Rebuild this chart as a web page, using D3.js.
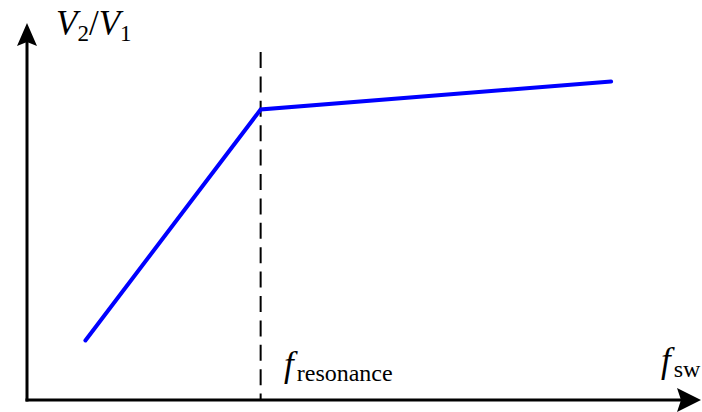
<!DOCTYPE html>
<html>
<head>
<meta charset="utf-8">
<script src="https://cdn.jsdelivr.net/npm/d3@7"></script>
<style>
  html, body { margin: 0; padding: 0; background: #fff; }
  svg { display: block; }
</style>
</head>
<body>
<svg id="chart" width="702" height="412"></svg>
<script>
// Switching frequency (normalised units) and voltage gain V2/V1 at the curve's breakpoints
const fswValues = [0.9, 3.6, 9.0];
const gainValues = [1.7, 8.3, 9.1];
// Resonant frequency marker
const resonanceFreq = [3.6];

const SERIF = "'Liberation Serif', 'Times New Roman', Times, serif";
const svg = d3.select("#chart");

const x = d3.scaleLinear().domain([0, 10]).range([27, 676]);
const y = d3.scaleLinear().domain([0, 10]).range([400, 50]);

const x0 = x(0), y0 = y(0);

// Axes
svg.append("line")
  .attr("x1", x0).attr("y1", y0 + 1.5)
  .attr("x2", x0).attr("y2", 40)
  .attr("stroke", "#000").attr("stroke-width", 3);
svg.append("line")
  .attr("x1", x0 - 1.5).attr("y1", y0)
  .attr("x2", 684).attr("y2", y0)
  .attr("stroke", "#000").attr("stroke-width", 3);

// Arrowheads
const yTip = 23, xTip = 701;
svg.append("path")
  .attr("d", `M${x0},${yTip} L${x0 + 10},${yTip + 23} L${x0},${yTip + 19} L${x0 - 10},${yTip + 23} Z`)
  .attr("fill", "#000");
svg.append("path")
  .attr("d", `M${xTip},${y0} L${xTip - 24},${y0 - 12} L${xTip - 20},${y0} L${xTip - 24},${y0 + 12} Z`)
  .attr("fill", "#000");

// Resonance marker
svg.append("line")
  .attr("x1", x(resonanceFreq[0])).attr("x2", x(resonanceFreq[0]))
  .attr("y1", 52).attr("y2", y0)
  .attr("stroke", "#000").attr("stroke-width", 2)
  .attr("stroke-dasharray", "16 8.4");

// Gain curve
const pts = fswValues.map((f, i) => [f, gainValues[i]]);
svg.append("path")
  .datum(pts)
  .attr("d", d3.line().x(d => x(d[0])).y(d => y(d[1])))
  .attr("fill", "none")
  .attr("stroke", "#0000ff")
  .attr("stroke-width", 4)
  .attr("stroke-linecap", "round")
  .attr("stroke-linejoin", "miter");

// Labels: italic symbol with upright subscript
function label(xPos, yPos, parts) {
  const t = svg.append("text")
    .attr("x", xPos).attr("y", yPos)
    .attr("font-family", SERIF)
    .attr("font-size", 35)
    .attr("fill", "#000");
  parts.forEach(p => {
    const s = t.append("tspan")
      .attr("font-family", SERIF)
      .attr("font-size", p.size || 35)
      .attr("font-style", p.italic ? "italic" : "normal")
      .text(p.text);
    if (p.dy) s.attr("dy", p.dy);
    if (p.dx) s.attr("dx", p.dx);
  });
}

label(56, 35, [
  { text: "V", italic: true },
  { text: "2", size: 23, dy: 6 },
  { text: "/", dy: -6 },
  { text: "V", italic: true },
  { text: "1", size: 23, dy: 6 }
]);

label(284, 376, [
  { text: "f", italic: true },
  { text: "resonance", size: 24, dy: 5, dx: 3 }
]);

label(661, 372, [
  { text: "f", italic: true },
  { text: "sw", size: 24, dy: 5, dx: 3 }
]);
</script>
</body>
</html>
